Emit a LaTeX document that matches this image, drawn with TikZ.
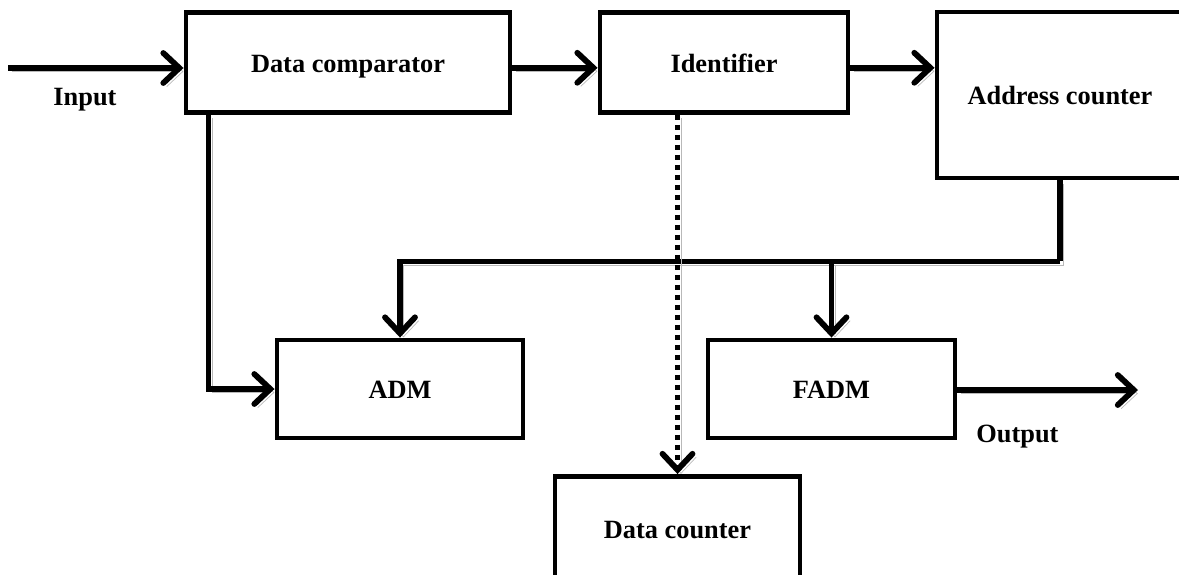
\documentclass[tikz,border=0pt]{standalone}
\usepackage{fontspec}
\setmainfont{Liberation Serif}
\usetikzlibrary{arrows.meta}

\begin{document}
\begin{tikzpicture}[
    block/.style={draw, line width=2.8pt, minimum height=2cm, text height=2.7ex, text depth=0.25ex,
        font=\fontsize{15}{18}\selectfont\bfseries},
    flow/.style={line width=3.3pt, -{Straight Barb[length=0.32cm, width=0.6cm, line cap=round]},
        preaction={draw=gray!55, transform canvas={shift={(2pt,-2pt)}}}},
    bus/.style={line width=3.3pt, preaction={draw=gray!55, transform canvas={shift={(2pt,-2pt)}}}},
    dotflow/.style={flow, dash pattern=on 0.1cm off 0.1cm},
    lbl/.style={font=\fontsize{15}{18}\selectfont\bfseries}]
    \useasboundingbox (0,0) rectangle (23.58,-11.48);
    \node[block, minimum width=6.48cm] (comp) at (6.96,-1.25) {Data comparator};
    \node[block, minimum width=4.96cm] (ident) at (14.48,-1.25) {Identifier};
    \node[block, minimum width=4.92cm, minimum height=3.32cm] (addr) at (21.2,-1.9) {Address counter};
    \node[block, minimum width=4.92cm, minimum height=1.96cm] (adm) at (8.0,-7.78) {ADM};
    \node[block, minimum width=4.94cm, minimum height=1.96cm] (fadm) at (16.63,-7.78) {FADM};
    \node[block, minimum width=4.9cm, minimum height=2.1cm] (dcount) at (13.55,-10.58) {Data counter};
    \coordinate (in) at (0.16,-1.36);
    \coordinate (out) at (22.76,-7.8);
    \coordinate (tap) at ([yshift=-1.62cm]addr.south);

    \draw[flow] (in) -- (in -| comp.west);
    \draw[flow] ([yshift=-3pt]comp.east) -- ([yshift=-3pt]ident.west);
    \draw[flow] ([yshift=-3pt]ident.east) -- ([yshift=-3pt]ident.east -| addr.west);
    \draw[flow] ([xshift=0.5cm]comp.south west) |- (adm.west);
    \draw[bus] (addr.south) -- (tap);
    \draw[flow] (tap) -| (adm.north);
    \draw[flow] (tap -| fadm.north) -- (fadm.north);
    \draw[dotflow] (ident.south -| dcount.north) -- (dcount.north);
    \draw[flow] (fadm.east |- out) -- (out);
    \node[lbl] (inlbl) at (1.7,-2.0) {Input};
    \node[lbl] (outlbl) at (20.35,-8.74) {Output};
\end{tikzpicture}
\end{document}
